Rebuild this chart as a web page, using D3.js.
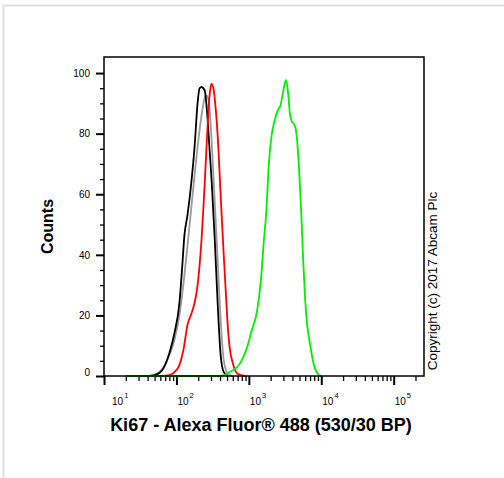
<!DOCTYPE html>
<html>
<head>
<meta charset="utf-8">
<script src="https://cdn.jsdelivr.net/npm/d3@7"></script>
<style>
body { margin: 0; background: #fff; }
text { font-family: Arial, "Liberation Sans", sans-serif; }
</style>
</head>
<body>
<div id="chart"></div>
<script>
// histogram curves: [fluorescence, counts]
const blackCurve = [[42,0],[51,0.3],[64,2],[80,7.6],[94,14.2],[110,24.1],[121,37],[129,46.5],[142,53],
	[162,64.7],[178,75.6],[196,90.1],[209,95],[222,95.4],[245,94.4],[270,84.5],[287,74.6],[306,64.7],
	[337,45.9],[371,24.1],[408,6.9],[450,1.3],[511,0]];
const greyCurve = [[42,0],[58,1.3],[75,5.3],[94,11.9],[110,20.1],[129,33.3],[152,49.8],[178,66.3],
	[209,81.2],[230,88.4],[253,92.7],[278,91.1],[306,77.9],[337,58.1],[371,38.3],[408,18.5],[450,5.3],
	[511,0.7],[581,0]];
const redCurve = [[64,0],[80,0.3],[94,1.3],[110,3.6],[125,8.6],[142,16.8],[162,20.8],[178,24.1],
	[196,30],[209,36.6],[222,44.9],[237,56.4],[253,69.6],[270,82.8],[283,91.1],[297,95.4],[306,96.4],
	[327,94.4],[348,88.4],[371,79.5],[408,59.7],[450,39.9],[479,28.4],[511,16.8],[545,9.2],[600,4.3],
	[703,0.7],[880,0]];
const greenCurve = [[20,0],[408,0],[545,1.3],[750,4],[968,10.2],[1101,15.2],[1291,21.1],[1468,31.7],
	[1615,44.9],[1750,54.8],[1866,68],[2024,77.9],[2189,82.8],[2371,86.1],[2528,87.8],[2739,89.4],
	[2965,93.7],[3265,97.7],[3482,93.4],[3710,86.1],[3954,83.8],[4217,83.2],[4567,79.5],[4946,68],
	[5275,54.8],[5623,38.3],[5995,25.1],[6393,16.8],[7031,10.2],[7742,4.6],[8790,1],[10000,0]];

const xMajorTicks = [10, 100, 1000, 10000, 100000];
const xTickExponents = ["1", "2", "3", "4", "5"];
const yMajorTicks = [0, 20, 40, 60, 80, 100];

const xTitle = "Ki67 - Alexa Fluor\u00AE 488 (530/30 BP)";
const yTitle = "Counts";
const copyright = "Copyright (c) 2017 Abcam Plc";

// draw order: grey under black, then red and green
const curves = [
	{values: greyCurve, color: "#9a9a9a"},
	{values: blackCurve, color: "#000000"},
	{values: redCurve, color: "#ff0000"},
	{values: greenCurve, color: "#00ee00"}
];

let width = 504;
let height = 478;
let margin = {top: 57, left: 104, right: 80, bottom: 102};

let svg = d3.select("#chart").append("svg")
	.attr("width", width)
	.attr("height", height);

// light frame round the whole picture
svg.append("rect")
	.attr("x", 3.5).attr("y", 5.5)
	.attr("width", width).attr("height", height)
	.attr("fill", "none")
	.attr("stroke", "#dedede")
	.attr("stroke-width", 2);

let x = d3.scaleLog()
	.domain([10, 262144])
	.range([margin.left, width - margin.right]);
let y = d3.scaleLinear()
	.domain([0, 105.3])
	.range([height - margin.bottom, margin.top]);

let x0 = x.range()[0], x1 = x.range()[1];
let y0 = y.range()[0], y1 = y.range()[1];

// minor ticks
let xMinor = x.ticks().filter(d => xMajorTicks.indexOf(d) < 0);
let yMinor = d3.range(0, 105, 5).filter(d => yMajorTicks.indexOf(d) < 0);

svg.append("g")
	.attr("class", "x-axis minor")
	.attr("transform", `translate(0,${y0})`)
	.call(d3.axisBottom(x).tickValues(xMinor).tickSize(5).tickFormat(""))
	.call(g => g.select(".domain").remove())
	.selectAll("line").attr("stroke-width", 1.3);

svg.append("g")
	.attr("class", "x-axis major")
	.attr("transform", `translate(0,${y0})`)
	.call(d3.axisBottom(x).tickValues(xMajorTicks).tickSize(9).tickFormat(""))
	.call(g => g.select(".domain").remove())
	.selectAll("line").attr("stroke-width", 2);

svg.append("g")
	.attr("class", "y-axis minor")
	.attr("transform", `translate(${x0},0)`)
	.call(d3.axisLeft(y).tickValues(yMinor).tickSize(4).tickFormat(""))
	.call(g => g.select(".domain").remove())
	.selectAll("line").attr("stroke-width", 1.3);

let yAxisG = svg.append("g")
	.attr("class", "y-axis major")
	.attr("transform", `translate(${x0},0)`)
	.call(d3.axisLeft(y).tickValues(yMajorTicks).tickSize(8).tickPadding(6));
yAxisG.select(".domain").remove();
yAxisG.selectAll("line").attr("stroke-width", 2);
yAxisG.selectAll("text")
	.attr("font-size", "10px")
	.attr("fill", "#000")
	.attr("font-family", "Arial, 'Liberation Sans', sans-serif")
	.attr("y", d => d === 0 ? -4 : 0);

// x tick labels as 10 with superscript exponent
let xLabels = svg.append("g").attr("class", "x-labels")
	.selectAll("text")
	.data(xMajorTicks)
	.join("text")
	.attr("x", d => Math.max(x(d) + 1, x0 + 8))
	.attr("y", y0 + 29)
	.attr("font-size", "10px");
xLabels.append("tspan").text("10");
xLabels.append("tspan")
	.attr("font-size", "7.5px")
	.attr("dx", 1)
	.attr("dy", -7)
	.text((d, i) => xTickExponents[i]);

// histogram lines
let line = d3.line()
	.x(d => x(d[0]))
	.y(d => y(d[1]))
	.curve(d3.curveMonotoneX);

svg.append("g").attr("class", "curves")
	.selectAll("path")
	.data(curves)
	.join("path")
	.attr("d", d => line(d.values))
	.attr("fill", "none")
	.attr("stroke", d => d.color)
	.attr("stroke-width", 1.8)
	.attr("stroke-linejoin", "round");

// plot box
svg.append("rect")
	.attr("x", x0).attr("y", y1)
	.attr("width", x1 - x0).attr("height", y0 - y1)
	.attr("fill", "none")
	.attr("stroke", "#000")
	.attr("stroke-width", 1.5);

// titles
svg.append("text")
	.attr("x", (x0 + x1) / 2 - 3)
	.attr("y", y0 + 55)
	.attr("text-anchor", "middle")
	.attr("font-size", "18px")
	.attr("font-weight", "bold")
	.text(xTitle);

svg.append("text")
	.attr("transform", `translate(53,${(y0 + y1) / 2 + 10}) rotate(-90)`)
	.attr("text-anchor", "middle")
	.attr("font-size", "16px")
	.attr("font-weight", "bold")
	.text(yTitle);

svg.append("text")
	.attr("transform", `translate(437,${y0 - 95}) rotate(-90)`)
	.attr("text-anchor", "middle")
	.attr("font-size", "13.5px")
	.text(copyright);
</script>
</body>
</html>
